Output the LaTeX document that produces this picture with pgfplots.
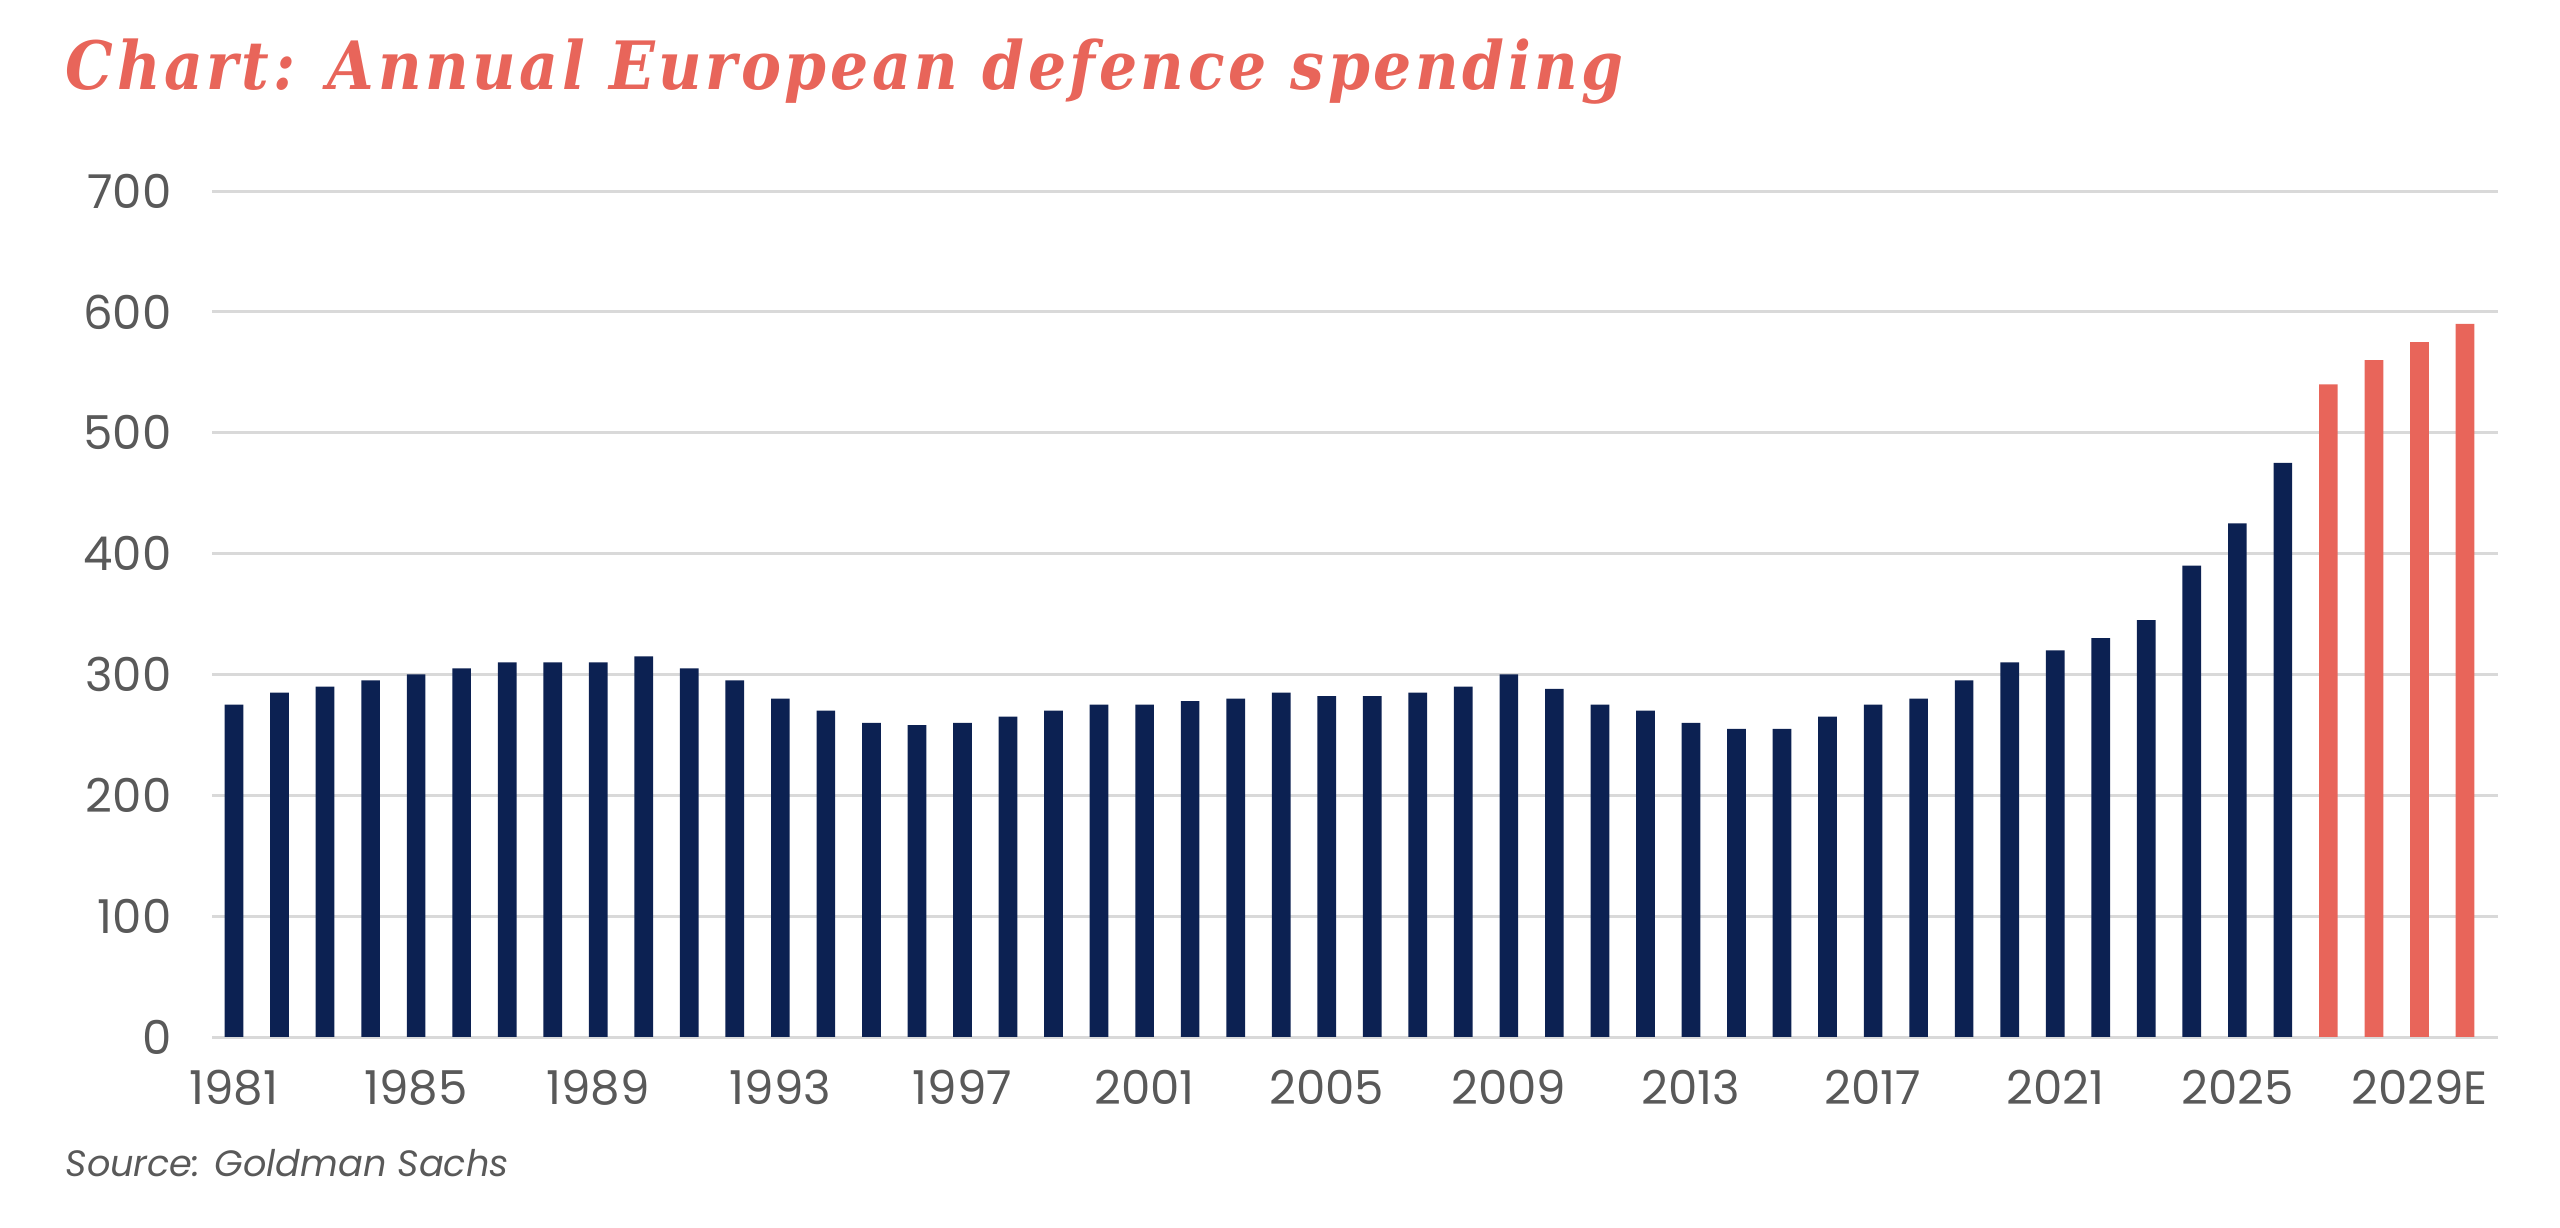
\documentclass[border=0pt]{standalone}
\usepackage{pgfplots}
\pgfplotsset{compat=1.18}
\usepackage{fontspec}
\setmainfont{Poppins}
\newfontfamily\titlefont[LetterSpace=5.4]{DejaVu Serif Condensed}
\newfontfamily\srcfont{Poppins}
\definecolor{navy}{RGB}{12,33,82}
\definecolor{salmon}{RGB}{232,101,90}
\definecolor{gridc}{RGB}{217,217,217}
\definecolor{tickc}{RGB}{89,89,89}
\begin{document}
\begin{tikzpicture}
\path[use as bounding box] (0,0) rectangle (768bp,368.4bp);
\node[anchor=base west, inner sep=0, text=salmon, font=\titlefont\bfseries\itshape\fontsize{20bp}{24bp}\selectfont] at (19.5bp,341.4bp) {Chart: Annual European defence spending};
\node[anchor=base west, inner sep=0, text=tickc, font=\srcfont\itshape\fontsize{11bp}{13bp}\selectfont] at (19.5bp,15.6bp) {Source: Goldman Sachs};
\begin{axis}[
  at={(63.6bp,57.3bp)}, anchor=south west,
  scale only axis, width=685.8bp, height=253.8bp,
  xmin=1980.517, xmax=2030.725, ymin=0, ymax=700,
  ybar, bar width=0.41, bar shift=0pt,
  axis line style={draw=none},
  major tick length=0pt,
  ymajorgrids, grid style={draw=gridc, line width=0.9bp},
  ytick={0,100,...,700},
  xtick={1981,1985,...,2029},
  xticklabels={1981,1985,1989,1993,1997,2001,2005,2009,2013,2017,2021,2025,2029E},
  /pgf/number format/assume math mode=true,
  yticklabel={\pgfmathprintnumber[fixed,precision=0]{\tick}},
  ticklabel style={text=tickc, font=\fontsize{14bp}{16bp}\selectfont, inner sep=0pt},
  xticklabel style={anchor=base, yshift=-20.1bp},
  yticklabel style={anchor=east, xshift=-12bp},
  /pgf/number format/1000 sep={},
]
\addplot[fill=navy, draw=none] coordinates {
(1981,275) (1982,285) (1983,290) (1984,295) (1985,300) (1986,305) (1987,310) (1988,310) (1989,310) (1990,315)
(1991,305) (1992,295) (1993,280) (1994,270) (1995,260) (1996,258) (1997,260) (1998,265) (1999,270) (2000,275)
(2001,275) (2002,278) (2003,280) (2004,285) (2005,282) (2006,282) (2007,285) (2008,290) (2009,300) (2010,288)
(2011,275) (2012,270) (2013,260) (2014,255) (2015,255) (2016,265) (2017,275) (2018,280) (2019,295) (2020,310)
(2021,320) (2022,330) (2023,345) (2024,390) (2025,425) (2026,475)
};
\addplot[fill=salmon, draw=none] coordinates {
(2027,540) (2028,560) (2029,575) (2030,590)
};
\end{axis}
\end{tikzpicture}
\end{document}
